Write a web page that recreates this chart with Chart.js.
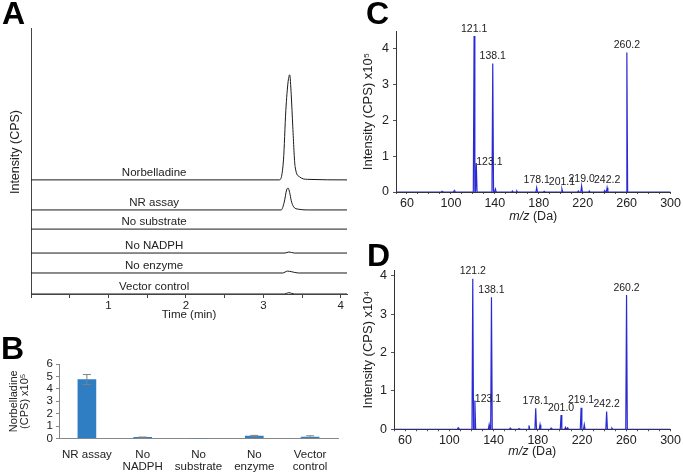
<!DOCTYPE html>
<html>
<head>
<meta charset="utf-8">
<script src="https://cdn.jsdelivr.net/npm/chart.js@4.4.1/dist/chart.umd.min.js"></script>
<style>
  html, body { margin: 0; padding: 0; background: #fff; }
  #fig { position: relative; width: 683px; height: 473px; overflow: hidden; font-family: Arial, 'Liberation Sans', sans-serif; }
  canvas { position: absolute; }
  .letter { position: absolute; font-weight: bold; font-size: 32px; line-height: 32px; color: #000; }
</style>
</head>
<body>
<div id="fig">
  <canvas id="chartA" width="350" height="325" style="left:0;top:0"></canvas>
  <canvas id="chartB" width="350" height="148" style="left:0;top:325px"></canvas>
  <canvas id="chartC" width="333" height="230" style="left:350px;top:0"></canvas>
  <canvas id="chartD" width="333" height="243" style="left:350px;top:230px"></canvas>
  <div class="letter" style="left:2px;top:-3px">A</div>
  <div class="letter" style="left:1px;top:332px">B</div>
  <div class="letter" style="left:366px;top:-3px">C</div>
  <div class="letter" style="left:367px;top:239px">D</div>
</div>
<script>
const FONT = "Arial, 'Liberation Sans', sans-serif";

// A: chromatograms (time in min, intensity above each trace baseline)
const traceNames = ['Norbelladine', 'NR assay', 'No substrate', 'No NADPH', 'No enzyme', 'Vector control'];
const traceOffsets = [42.9, 31.6, 24.4, 15.4, 7.9, 0];
const normTime = [0, 3.21, 3.26, 3.29, 3.32, 3.34, 3.36, 3.38, 3.41, 3.47, 3.57, 4.08];
const normInt  = [0, 0, 7.5, 26, 37, 39.5, 32, 20, 5, 1.1, 0.2, 0];
const nrTime = [0, 3.23, 3.27, 3.3, 3.32, 3.34, 3.36, 3.39, 3.45, 3.6, 4.08];
const nrInt  = [0, 0, 3, 7.5, 8.2, 6.5, 3.5, 1.2, 0.3, 0, 0];
const noSubTime = [0, 4.08];
const noSubInt  = [0, 0];
const noNadphTime = [0, 3.28, 3.33, 3.4, 4.08];
const noNadphInt  = [0, 0, 0.4, 0, 0];
const noEnzTime = [0, 3.25, 3.31, 3.36, 3.45, 4.08];
const noEnzInt  = [0, 0, 0.7, 0.5, 0, 0];
const vectorTime = [0, 3.27, 3.33, 3.4, 4.08];
const vectorInt  = [0, 0, 0.5, 0, 0];
const traceTimes = [normTime, nrTime, noSubTime, noNadphTime, noEnzTime, vectorTime];
const traceInts = [normInt, nrInt, noSubInt, noNadphInt, noEnzInt, vectorInt];

// B: norbelladine (CPS x10^5)
const barLabels = [['NR assay'], ['No', 'NADPH'], ['No', 'substrate'], ['No', 'enzyme'], ['Vector', 'control']];
const barValues = [4.75, 0.1, 0, 0.2, 0.12];
const barErrors = [0.4, 0.02, 0, 0.05, 0.1];

// C: MS/MS of norbelladine standard (x10^5)
const cPeakMz  = [121.1, 123.1, 138.1, 178.1, 201.1, 219.0, 242.2, 260.2];
const cPeakInt = [4.36, 0.81, 3.59, 0.12, 0.08, 0.17, 0.12, 3.9];
const cMinorMz  = [92, 103, 140.5, 156, 160, 185, 216, 226, 240];
const cMinorInt = [0.02, 0.04, 0.08, 0.03, 0.03, 0.02, 0.03, 0.03, 0.04];

// D: MS/MS of NR assay product (x10^4)
const dPeakMz  = [121.2, 123.1, 138.1, 178.1, 201.0, 219.1, 242.2, 260.2];
const dPeakInt = [3.92, 0.75, 3.44, 0.55, 0.37, 0.56, 0.46, 3.5];
const dMinorMz  = [108, 136, 155, 163, 172, 182, 192, 205, 207, 222, 247];
const dMinorInt = [0.04, 0.12, 0.03, 0.02, 0.1, 0.12, 0.03, 0.05, 0.04, 0.12, 0.03];

function spectrumPoints(mzs, ints, minorMz, minorInt) {
  const peaks = mzs.map((m, i) => [m, ints[i]]).concat(minorMz.map((m, i) => [m, minorInt[i]]));
  peaks.sort((a, b) => a[0] - b[0]);
  const pts = [{x: 50, y: 0}];
  peaks.forEach(([m, h]) => {
    pts.push({x: m - 0.7, y: 0}, {x: m, y: h}, {x: m + 0.7, y: 0});
  });
  pts.push({x: 300, y: 0});
  return pts;
}

function peakLabels(mzs, ints, sideMz) {
  return {
    id: 'peakLabels',
    afterDatasetsDraw(chart) {
      const {ctx, scales: {x, y}} = chart;
      ctx.save();
      ctx.font = '10.5px ' + FONT;
      ctx.fillStyle = '#222';
      ctx.textBaseline = 'bottom';
      mzs.forEach((m, i) => {
        const px = x.getPixelForValue(m);
        const py = y.getPixelForValue(ints[i]);
        if (m === sideMz) {
          ctx.textAlign = 'left';
          ctx.fillText(m.toFixed(1), px, py + 4);
        } else {
          ctx.textAlign = 'center';
          ctx.fillText(m.toFixed(1), px, py - 2);
        }
      });
      ctx.restore();
    }
  };
}

function mzTitle(gap) {
  return {
    id: 'mzTitle',
    afterDraw(chart) {
      const {ctx, chartArea} = chart;
      const cx = (chartArea.left + chartArea.right) / 2;
      const cy = chartArea.bottom + gap;
      ctx.save();
      ctx.fillStyle = '#222';
      ctx.textBaseline = 'middle';
      ctx.textAlign = 'left';
      ctx.font = 'italic 12.5px ' + FONT;
      const w1 = ctx.measureText('m/z').width;
      ctx.font = '12.5px ' + FONT;
      const w2 = ctx.measureText(' (Da)').width;
      const sx = cx - (w1 + w2) / 2;
      ctx.font = 'italic 12.5px ' + FONT;
      ctx.fillText('m/z', sx, cy);
      ctx.font = '12.5px ' + FONT;
      ctx.fillText(' (Da)', sx + w1, cy);
      ctx.restore();
    }
  };
}

const traceText = {
  id: 'traceText',
  afterDraw(chart) {
    const {ctx, scales: {x, y}} = chart;
    ctx.save();
    ctx.fillStyle = '#222';
    ctx.font = '11.5px ' + FONT;
    ctx.textAlign = 'center';
    ctx.textBaseline = 'middle';
    traceNames.forEach((name, i) => {
      ctx.fillText(name, x.getPixelForValue(1.59), y.getPixelForValue(traceOffsets[i]) - 7);
    });
    ctx.translate(16, 152);
    ctx.rotate(-Math.PI / 2);
    ctx.font = '12.5px ' + FONT;
    ctx.fillText('Intensity (CPS)', 0, 0);
    ctx.restore();
  }
};

const errorBars = {
  id: 'errorBars',
  afterDatasetsDraw(chart) {
    const {ctx, scales: {y}} = chart;
    const meta = chart.getDatasetMeta(0);
    ctx.save();
    ctx.strokeStyle = '#808080';
    ctx.lineWidth = 1;
    meta.data.forEach((bar, i) => {
      if (!barErrors[i]) return;
      const top = y.getPixelForValue(barValues[i] + barErrors[i]);
      const bot = y.getPixelForValue(barValues[i] - barErrors[i]);
      ctx.beginPath();
      ctx.moveTo(bar.x, bot); ctx.lineTo(bar.x, top);
      ctx.moveTo(bar.x - 4, top); ctx.lineTo(bar.x + 4, top);
      ctx.moveTo(bar.x - 4, bot); ctx.lineTo(bar.x + 4, bot);
      ctx.stroke();
    });
    ctx.restore();
  }
};

Chart.defaults.font.family = FONT;
Chart.defaults.color = '#222';
const noPlugins = {legend: {display: false}, tooltip: {enabled: false}};

// A
new Chart(document.getElementById('chartA'), {
  type: 'line',
  data: {
    datasets: traceNames.map((name, i) => ({
      label: name,
      data: traceTimes[i].map((t, j) => ({x: t, y: traceOffsets[i] + traceInts[i][j]})),
      borderColor: '#1a1a1a',
      borderWidth: 1,
      cubicInterpolationMode: 'monotone',
      pointRadius: 0
    }))
  },
  options: {
    responsive: false,
    animation: false,
    layout: {padding: {top: 28, right: 3}},
    plugins: noPlugins,
    scales: {
      x: {
        type: 'linear', min: 0, max: 4.08,
        ticks: {stepSize: 0.5, includeBounds: false, autoSkip: false, maxRotation: 0, padding: 1,
          font: {size: 11.5}, callback: v => (v > 0 && Number.isInteger(v)) ? v : ''},
        grid: {drawOnChartArea: false, tickLength: 4, color: '#444'},
        border: {color: '#444'},
        title: {display: true, text: 'Time (min)', font: {size: 11.5}, padding: {top: 0, bottom: 3}},
        afterFit: s => { s.height = 31; }
      },
      y: {
        min: 0, max: 100,
        ticks: {display: false},
        grid: {display: false},
        border: {color: '#444'},
        afterFit: s => { s.width = 31; }
      }
    }
  },
  plugins: [traceText]
});

// B
new Chart(document.getElementById('chartB'), {
  type: 'bar',
  data: {
    labels: barLabels,
    datasets: [{data: barValues, backgroundColor: '#2f7dc2', barThickness: 18}]
  },
  options: {
    responsive: false,
    animation: false,
    layout: {padding: {top: 39, right: 12}},
    plugins: noPlugins,
    scales: {
      x: {
        ticks: {font: {size: 11.5, lineHeight: 1.05}, padding: 2, maxRotation: 0, autoSkip: false},
        grid: {display: false},
        border: {color: '#888'},
        afterFit: s => { s.height = 34.5; }
      },
      y: {
        min: 0, max: 6,
        ticks: {stepSize: 1, autoSkip: false, font: {size: 11.5}, padding: 3},
        grid: {drawOnChartArea: false, tickLength: 3, color: '#888'},
        border: {color: '#888'},
        title: {display: true, text: ['Norbelladine', '(CPS) x10⁵'], font: {size: 11, lineHeight: 1.05}, padding: {top: 8}},
        afterFit: s => { s.width = 59; }
      }
    }
  },
  plugins: [errorBars]
});

function spectrumChart(id, pts, yMax, padTop, yWidth, xHeight, padRight, yTitle, labelPlugin, titleGap) {
  return new Chart(document.getElementById(id), {
    type: 'line',
    data: {datasets: [{data: pts, borderColor: '#2a2ad4', borderWidth: 1.2, pointRadius: 0, tension: 0}]},
    options: {
      responsive: false,
      animation: false,
      layout: {padding: {top: padTop, right: padRight}},
      plugins: noPlugins,
      scales: {
        x: {
          type: 'linear', min: 50, max: 300,
          ticks: {stepSize: 10, autoSkip: false, maxRotation: 0, padding: 2, font: {size: 12.5},
            callback: v => ((v - 60) % 40 === 0) ? v : ''},
          grid: {drawOnChartArea: false, tickLength: 2, color: '#555'},
          border: {color: '#333'},
          afterFit: s => { s.height = xHeight; }
        },
        y: {
          min: 0, max: yMax,
          ticks: {stepSize: 1, includeBounds: false, autoSkip: false, padding: 4, font: {size: 12.5},
            callback: v => Number.isInteger(v) ? v : ''},
          grid: {drawOnChartArea: false, tickLength: 3, color: '#555'},
          border: {color: '#333'},
          title: {display: true, text: yTitle, font: {size: 13}, padding: {top: 11}},
          afterFit: s => { s.width = yWidth; }
        }
      }
    },
    plugins: [labelPlugin, mzTitle(titleGap)]
  });
}

spectrumChart('chartC', spectrumPoints(cPeakMz, cPeakInt, cMinorMz, cMinorInt), 4.5, 31, 46, 38, 2,
  'Intensity (CPS) x10⁵', peakLabels(cPeakMz, cPeakInt, 123.1), 25);
spectrumChart('chartD', spectrumPoints(dPeakMz, dPeakInt, dMinorMz, dMinorInt), 4.15, 40, 44, 43.7, 3,
  'Intensity (CPS) x10⁴', peakLabels(dPeakMz, dPeakInt, 123.1), 22);
</script>
</body>
</html>
